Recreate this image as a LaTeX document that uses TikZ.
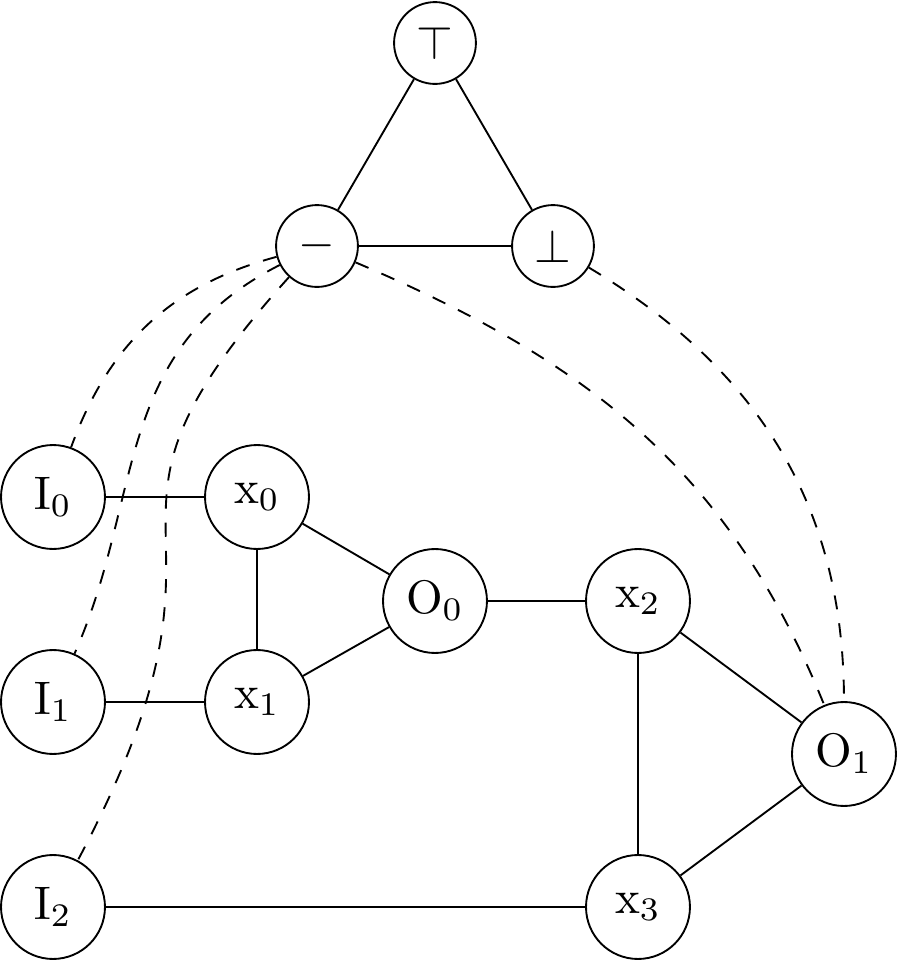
\documentclass[tikz,border=0pt]{standalone}
\begin{document}
\begin{tikzpicture}[x=0.2126pt,y=0.2126pt,
  big/.style={draw,circle,inner sep=0pt,minimum size=22.1pt},
  small/.style={draw,circle,inner sep=0pt,minimum size=17.4pt},
  edge/.style={draw},
  dedge/.style={draw,dashed}]
\useasboundingbox (0,0) rectangle (897,961);
\node[small] (T) at (435,918) {$\top$};
\node[small] (M) at (317,715) {$-$};
\node[small] (B) at (553,715) {$\bot$};
\node[big] (I0) at (53,464) {$\mathrm{I}_0$};
\node[big] (x0) at (257,464) {$\mathrm{x}_0$};
\node[big] (I1) at (53,259) {$\mathrm{I}_1$};
\node[big] (x1) at (257,259) {$\mathrm{x}_1$};
\node[big] (O0) at (435,360) {$\mathrm{O}_0$};
\node[big] (x2) at (638,360) {$\mathrm{x}_2$};
\node[big] (O1) at (844,207) {$\mathrm{O}_1$};
\node[big] (I2) at (53,54) {$\mathrm{I}_2$};
\node[big] (x3) at (638,54) {$\mathrm{x}_3$};
\path[edge] (T) -- (M) (T) -- (B) (M) -- (B);
\path[edge] (I0) -- (x0) (I1) -- (x1) (I2) -- (x3);
\path[edge] (x0) -- (x1) (x0) -- (O0) (x1) -- (O0) (O0) -- (x2);
\path[edge] (x2) -- (x3) (x2) -- (O1) (x3) -- (O1);
\path[dedge] (M) to[out=195,in=70] (I0);
\path[dedge] (M) to[out=207,in=66,out looseness=1.1,in looseness=1] (I1);
\path[dedge] (M) to[out=228,in=62,out looseness=1.47,in looseness=1.68] (I2);
\path[dedge] (M) to[out=-23,in=112] (O1);
\path[dedge] (B) to[out=-31,in=90] (O1);
\end{tikzpicture}
\end{document}
